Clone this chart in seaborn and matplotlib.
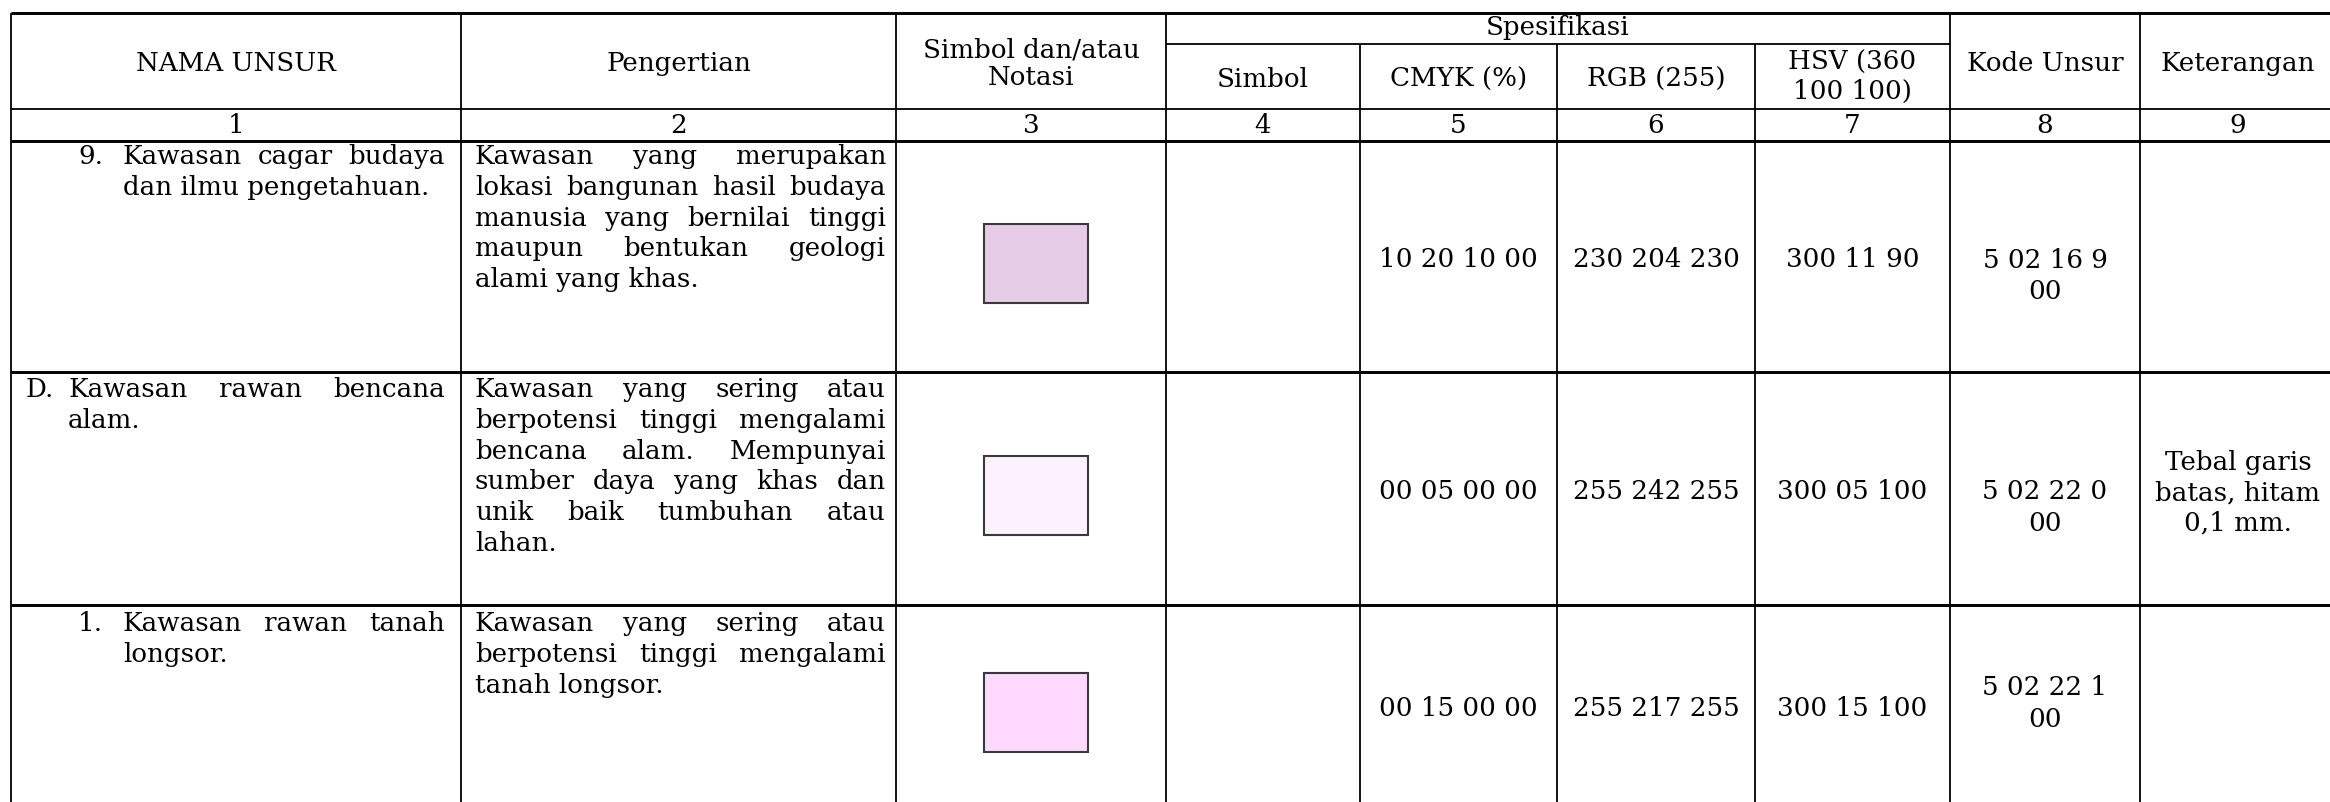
import matplotlib
matplotlib.use("Agg")
import matplotlib.pyplot as plt
from matplotlib.patches import Rectangle
import seaborn as sns

# ---------------- data ----------------
header_main = ["NAMA UNSUR", "Pengertian", "Simbol dan/atau\nNotasi", "Spesifikasi", "Kode Unsur", "Keterangan"]
header_sub = ["Simbol", "CMYK (%)", "RGB (255)", "HSV (360\n100 100)"]
col_numbers = ["1", "2", "3", "4", "5", "6", "7", "8", "9"]

row_prefix = ["9.", "D.", "1."]
row_names = [
    ["Kawasan cagar budaya", "dan ilmu pengetahuan."],
    ["Kawasan rawan bencana", "alam."],
    ["Kawasan rawan tanah", "longsor."],
]
row_definitions = [
    ["Kawasan yang merupakan", "lokasi bangunan hasil budaya", "manusia yang bernilai tinggi",
     "maupun bentukan geologi", "alami yang khas."],
    ["Kawasan yang sering atau", "berpotensi tinggi mengalami", "bencana alam. Mempunyai",
     "sumber daya yang khas dan", "unik baik tumbuhan atau", "lahan."],
    ["Kawasan yang sering atau", "berpotensi tinggi mengalami", "tanah longsor."],
]
cmyk_values = ["10 20 10 00", "00 05 00 00", "00 15 00 00"]
rgb_values = [(230, 204, 230), (255, 242, 255), (255, 217, 255)]
hsv_values = ["300 11 90", "300 05 100", "300 15 100"]
kode_values = ["5 02 16 9\n00", "5 02 22 0\n00", "5 02 22 1\n00"]
keterangan_values = ["", "Tebal garis\nbatas, hitam\n0,1 mm.", ""]

# ---------------- layout ----------------
W, H = 2330, 802
col_edges = [11, 461, 896, 1166, 1360, 1557, 1755, 1950, 2140, 2336]
y_top, y_spec, y_hdr, y_num = 13, 44, 109, 141
row_tops = [141, 372, 605]
row_bottoms = [372, 605, 812]
FS = 18.8
LINE = 30.8

sns.set_theme(style="white")
plt.rcParams['font.family'] = ['DejaVu Serif']

fig = plt.figure(figsize=(W / 100, H / 100), dpi=100)
fig.patch.set_facecolor("white")
ax = fig.add_axes([0, 0, 1, 1])
ax.set_xlim(0, W)
ax.set_ylim(H, 0)
ax.axis("off")
renderer = fig.canvas.get_renderer()

def twidth(s):
    t = ax.text(0, 0, s, fontsize=FS)
    w = t.get_window_extent(renderer).width
    t.remove()
    return w

def put(x, yc, s, ha="center"):
    ax.text(x, yc + 8, s, fontsize=FS, ha=ha, va="baseline", color="black")

def put_multi(x, yc_list, s, ha="center"):
    for yc, line in zip(yc_list, s.split("\n")):
        put(x, yc, line, ha=ha)

def justified(lines, x0, x1, y_first):
    for i, line in enumerate(lines):
        yc = y_first + i * LINE
        words = line.split()
        if i == len(lines) - 1 or len(words) == 1:
            put(x0, yc, line, ha="left")
            continue
        ws = [twidth(w) for w in words]
        gap = (x1 - x0 - sum(ws)) / (len(words) - 1)
        x = x0
        for w, wd in zip(words, ws):
            put(x, yc, w, ha="left")
            x += wd + gap

# ---------------- grid lines ----------------
thick, thin = 2.1, 1.3
ax.hlines(y_top, col_edges[0], W + 10, color="black", lw=thick)
ax.hlines(y_spec, col_edges[3], col_edges[7], color="black", lw=thin)
ax.hlines(y_hdr, col_edges[0], W + 10, color="black", lw=thin)
ax.hlines(y_num, col_edges[0], W + 10, color="black", lw=thick)
for yb in row_bottoms[:-1]:
    ax.hlines(yb, col_edges[0], W + 10, color="black", lw=thick)
for i, xe in enumerate(col_edges[:-1]):
    top = y_spec if i in (4, 5, 6) else y_top
    ax.vlines(xe, top, H + 10, color="black", lw=thin)

centers = [(a + b) / 2 for a, b in zip(col_edges[:-1], col_edges[1:])]

# ---------------- header ----------------
put(centers[0], 63, header_main[0])
put(centers[1], 63, header_main[1])
put_multi(centers[2], [49, 77], header_main[2])
put((col_edges[3] + col_edges[7]) / 2, 27, header_main[3])
put(centers[7], 63, header_main[4])
put(centers[8], 63, header_main[5])
for j, s in enumerate(header_sub):
    if "\n" in s:
        put_multi(centers[3 + j], [62, 91], s)
    else:
        put(centers[3 + j], 79, s)
for j, s in enumerate(col_numbers):
    put(centers[j], 125, s)

# ---------------- body ----------------
prefix_x = [78, 26, 78]
name_x = [123, 68, 123]
val_y = [259, 491, 708]
kode_y = [[260, 291], [491, 523], [687, 719]]
first_off = [15, 17, 18]
for r in range(3):
    y_first = row_tops[r] + first_off[r]
    put(prefix_x[r], y_first, row_prefix[r], ha="left")
    justified(row_names[r], name_x[r], 445, y_first)
    justified(row_definitions[r], 475, 886, y_first)
    # swatch
    sw_h = 79
    sw_top = [224, 456, 673][r]
    rgb = tuple(c / 255 for c in rgb_values[r])
    ax.add_patch(Rectangle((984, sw_top), 104, sw_h, facecolor=rgb,
                           edgecolor="#3a3a3a", lw=1.5))
    put(centers[4], val_y[r], cmyk_values[r])
    put(centers[5], val_y[r], "%d %d %d" % rgb_values[r])
    put(centers[6], val_y[r], hsv_values[r])
    put_multi(centers[7], kode_y[r], kode_values[r])
    if keterangan_values[r]:
        put_multi(centers[8], [462, 493, 523], keterangan_values[r])

fig.savefig("out.png", dpi=100, facecolor="white")
